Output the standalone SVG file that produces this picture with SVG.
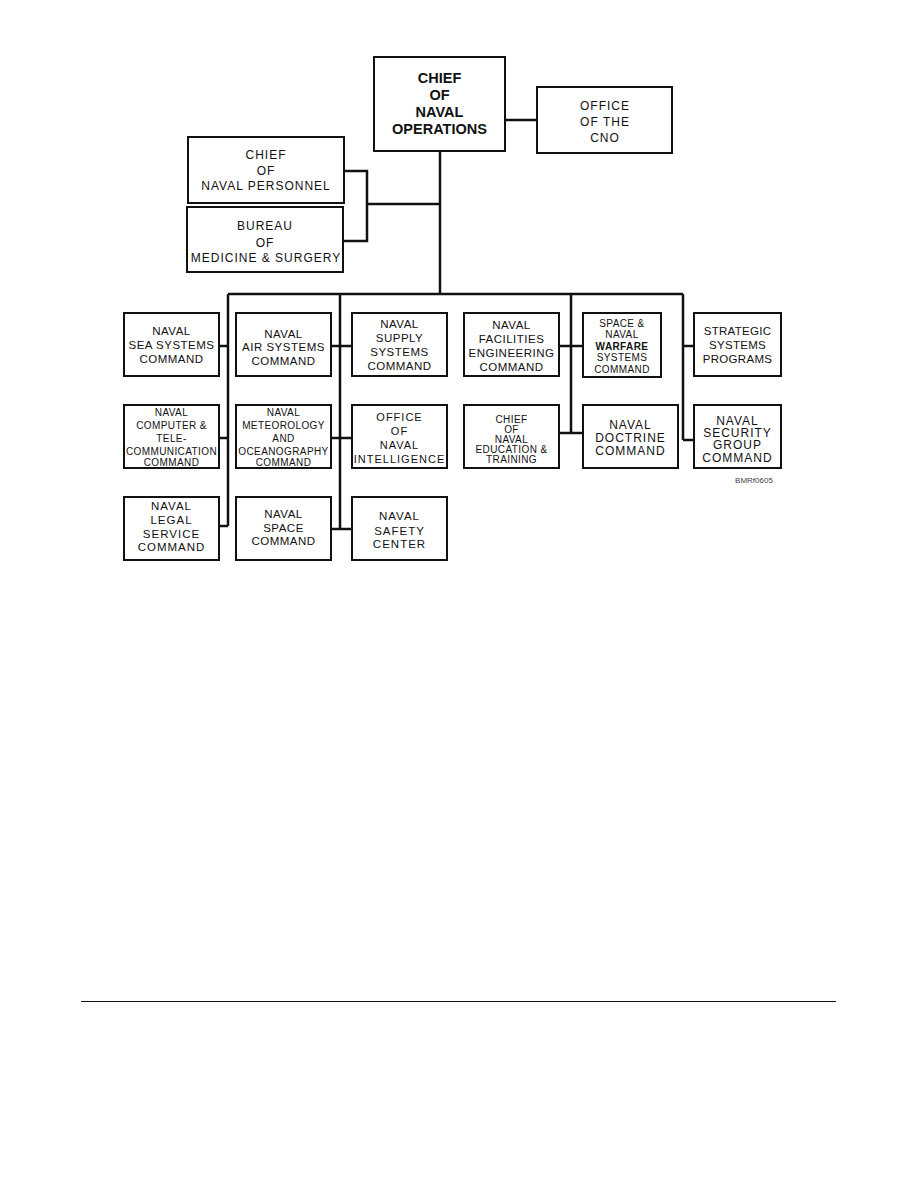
<svg xmlns="http://www.w3.org/2000/svg" width="918" height="1188" viewBox="0 0 918 1188">
<style>
.b{fill:#fff;stroke:#111;stroke-width:2}
.c{fill:none;stroke:#111;stroke-width:2.5}
text{font-family:"Liberation Sans",Arial,sans-serif;fill:#111;text-anchor:middle}
.t12{font-size:12px;letter-spacing:1px}
.t11{font-size:11.5px;letter-spacing:0.5px}
.t10{font-size:10px;letter-spacing:0.4px}
.bold{font-weight:bold;font-size:14.5px}
</style>
<rect width="918" height="1188" fill="#fff"/>
<g id="connectors">
<path class="c" d="M440,151 V294 M228,294 H683 M505,120 H537"/>
<path class="c" d="M344,171 H367 V241 H343 M367,204 H440"/>
<path class="c" d="M228,294 V526 M340,294 V529 M571,294 V433 M683,294 V440"/>
<path class="c" d="M219,346 H228 M331,346 H352 M559,346 H583 M683,346 H694"/>
<path class="c" d="M219,438 H228 M331,438 H352 M559,433 H583 M683,440 H694"/>
<path class="c" d="M219,526 H228 M331,529 H352"/>
</g>
<g id="cno"><rect class="b" x="374" y="57" width="131" height="94"/>
<text class="bold" x="439.5"><tspan x="439.5" y="83">CHIEF</tspan><tspan x="439.5" y="99.5">OF</tspan><tspan x="439.5" y="116.5">NAVAL</tspan><tspan x="439.5" y="133.5">OPERATIONS</tspan></text></g>
<g id="office-cno"><rect class="b" x="537" y="87" width="135" height="66"/>
<text class="t12"><tspan x="605" y="110">OFFICE</tspan><tspan x="605" y="126">OF THE</tspan><tspan x="605" y="141.5">CNO</tspan></text></g>
<g id="personnel"><rect class="b" x="188" y="137" width="156" height="66"/>
<text class="t12"><tspan x="266" y="158.5">CHIEF</tspan><tspan x="266" y="175">OF</tspan><tspan x="266" y="190">NAVAL PERSONNEL</tspan></text></g>
<g id="bureau"><rect class="b" x="187" y="207" width="156" height="65"/>
<text class="t12"><tspan x="265" y="230">BUREAU</tspan><tspan x="265" y="246.5">OF</tspan><tspan x="266" y="262">MEDICINE &amp; SURGERY</tspan></text></g>
<g id="sea"><rect class="b" x="124" y="313" width="95" height="63"/>
<text class="t11"><tspan x="171.5" y="334.5">NAVAL</tspan><tspan x="171.5" y="349">SEA SYSTEMS</tspan><tspan x="171.5" y="363">COMMAND</tspan></text></g>
<g id="air"><rect class="b" x="236" y="313" width="95" height="63"/>
<text class="t11"><tspan x="283.5" y="337.5">NAVAL</tspan><tspan x="283.5" y="351">AIR SYSTEMS</tspan><tspan x="283.5" y="365">COMMAND</tspan></text></g>
<g id="supply"><rect class="b" x="352" y="313" width="95" height="63"/>
<text class="t11"><tspan x="399.5" y="328">NAVAL</tspan><tspan x="399.5" y="342">SUPPLY</tspan><tspan x="399.5" y="356">SYSTEMS</tspan><tspan x="399.5" y="369.5">COMMAND</tspan></text></g>
<g id="facilities"><rect class="b" x="464" y="313" width="95" height="63"/>
<text class="t11"><tspan x="511.5" y="329">NAVAL</tspan><tspan x="511.5" y="343">FACILITIES</tspan><tspan x="511.5" y="357">ENGINEERING</tspan><tspan x="511.5" y="371">COMMAND</tspan></text></g>
<g id="spawar"><rect class="b" x="583" y="313" width="78" height="64"/>
<text class="t10"><tspan x="622" y="326.5">SPACE &amp;</tspan><tspan x="622" y="338">NAVAL</tspan><tspan x="622" y="349.5" font-weight="bold" font-size="10">WARFARE</tspan><tspan x="622" y="361">SYSTEMS</tspan><tspan x="622" y="372.5">COMMAND</tspan></text></g>
<g id="strategic"><rect class="b" x="694" y="313" width="87" height="63"/>
<text class="t11" style="font-size:11.5px;letter-spacing:0.3px"><tspan x="737.5" y="335">STRATEGIC</tspan><tspan x="737.5" y="348.5">SYSTEMS</tspan><tspan x="737.5" y="362.5">PROGRAMS</tspan></text></g>
<g id="computer"><rect class="b" x="124" y="405" width="95" height="63"/>
<text class="t10"><tspan x="171.5" y="416">NAVAL</tspan><tspan x="171.5" y="428.5">COMPUTER &amp;</tspan><tspan x="171.5" y="441.5">TELE-</tspan><tspan x="171.5" y="454.5">COMMUNICATION</tspan><tspan x="171.5" y="465.5">COMMAND</tspan></text></g>
<g id="meteorology"><rect class="b" x="236" y="405" width="95" height="63"/>
<text class="t10"><tspan x="283.5" y="416">NAVAL</tspan><tspan x="283.5" y="428.5">METEOROLOGY</tspan><tspan x="283.5" y="441.5">AND</tspan><tspan x="283.5" y="454.5">OCEANOGRAPHY</tspan><tspan x="283.5" y="465.5">COMMAND</tspan></text></g>
<g id="oni"><rect class="b" x="352" y="405" width="95" height="63"/>
<text class="t11" style="letter-spacing:1px;font-size:11px"><tspan x="399.5" y="421">OFFICE</tspan><tspan x="399.5" y="435">OF</tspan><tspan x="399.5" y="449">NAVAL</tspan><tspan x="399.5" y="462.5">INTELLIGENCE</tspan></text></g>
<g id="education"><rect class="b" x="464" y="405" width="95" height="63"/>
<text class="t10"><tspan x="511.5" y="422.5">CHIEF</tspan><tspan x="511.5" y="432.5">OF</tspan><tspan x="511.5" y="442.5">NAVAL</tspan><tspan x="511.5" y="452.5">EDUCATION &amp;</tspan><tspan x="511.5" y="462.5">TRAINING</tspan></text></g>
<g id="doctrine"><rect class="b" x="583" y="405" width="95" height="63"/>
<text class="t12"><tspan x="630.5" y="428.5">NAVAL</tspan><tspan x="630.5" y="442">DOCTRINE</tspan><tspan x="630.5" y="455">COMMAND</tspan></text></g>
<g id="security"><rect class="b" x="694" y="405" width="87" height="63"/>
<text class="t12"><tspan x="737.5" y="424.5">NAVAL</tspan><tspan x="737.5" y="437">SECURITY</tspan><tspan x="737.5" y="449">GROUP</tspan><tspan x="737.5" y="462">COMMAND</tspan></text></g>
<g id="legal"><rect class="b" x="124" y="497" width="95" height="63"/>
<text class="t11" style="letter-spacing:1px"><tspan x="171.5" y="509.5">NAVAL</tspan><tspan x="171.5" y="523.5">LEGAL</tspan><tspan x="171.5" y="537.5">SERVICE</tspan><tspan x="171.5" y="551">COMMAND</tspan></text></g>
<g id="space"><rect class="b" x="236" y="497" width="95" height="63"/>
<text class="t11"><tspan x="283.5" y="517.5">NAVAL</tspan><tspan x="283.5" y="531.5">SPACE</tspan><tspan x="283.5" y="545">COMMAND</tspan></text></g>
<g id="safety"><rect class="b" x="352" y="497" width="95" height="63"/>
<text class="t11" style="letter-spacing:1px"><tspan x="399.5" y="520">NAVAL</tspan><tspan x="399.5" y="534.5">SAFETY</tspan><tspan x="399.5" y="548">CENTER</tspan></text></g>
<text x="754" y="483" style="font-size:8px;fill:#444">BMRf0605</text>
<line x1="81" y1="1001.5" x2="836" y2="1001.5" stroke="#111" stroke-width="1.2"/>
</svg>
